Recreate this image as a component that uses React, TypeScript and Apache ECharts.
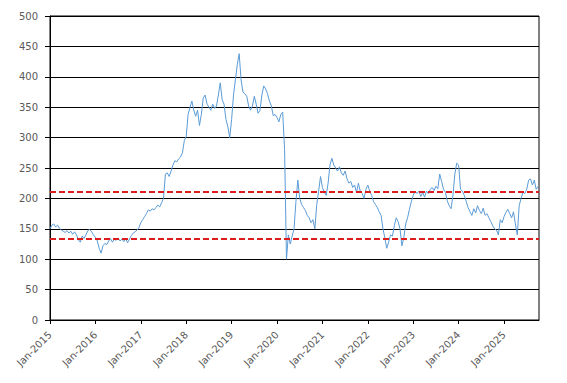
import React, { useEffect, useRef } from "react";
import * as echarts from "echarts";

// Series sampled every half month from Jan-2015
const startYear = 2015;
const stepYears = 1 / 24;
const values: number[] = [
  // 2015
  150, 156, 158, 153, 156, 151, 148, 146, 144, 147, 143, 146, 141, 145, 140, 132, 128, 138, 134, 140, 147, 149, 145, 140,
  // 2016
  136, 130, 118, 110, 122, 126, 124, 130, 134, 128, 133, 131, 135, 130, 133, 129, 134, 127, 133, 139, 143, 145, 148, 152,
  // 2017
  160, 165, 170, 175, 181, 179, 183, 181, 185, 189, 186, 193, 200, 240, 242, 236, 245, 255, 262, 260, 265, 268, 275, 295,
  // 2018
  302, 338, 350, 360, 345, 335, 345, 320, 338, 365, 370, 355, 350, 345, 355, 348, 352, 370, 390, 362, 355, 330, 318, 300,
  // 2019
  330, 370, 395, 420, 438, 395, 375, 372, 368, 352, 345, 352, 368, 355, 340, 345, 370, 385, 380, 372, 360, 352, 336, 338,
  // 2020
  333, 326, 338, 342, 280, 100, 140, 125, 138, 150, 195, 230, 200, 190, 185, 180, 172, 168, 160, 165, 150, 190, 212, 236,
  // 2021
  218, 210, 205, 225, 255, 266, 255, 250, 245, 252, 242, 238, 245, 232, 225, 228, 218, 222, 210, 225, 212, 208, 200, 215,
  // 2022
  222, 212, 205, 195, 190, 185, 178, 172, 150, 135, 118, 128, 140, 138, 155, 168, 162, 150, 122, 135, 158, 168, 182, 195,
  // 2023
  205, 212, 208, 212, 203, 210, 202, 212, 208, 215, 218, 213, 220, 216, 240, 228, 215, 210, 196, 188, 183, 205, 240, 258,
  // 2024
  255, 215, 212, 205, 195, 185, 178, 172, 183, 176, 188, 180, 175, 184, 172, 175, 168, 162, 155, 150, 148, 140, 165, 160,
  // 2025
  170, 177, 182, 175, 168, 178, 158, 140, 188, 200, 210, 208, 215, 230, 232, 222, 230, 215, 220,
];

const upperBand = 210.5;
const lowerBand = 133;
const yearTicks: number[] = [2015, 2016, 2017, 2018, 2019, 2020, 2021, 2022, 2023, 2024, 2025];
const xMax = 2025.77;

export default function App() {
  const ref = useRef<HTMLDivElement>(null);
  useEffect(() => {
    if (!ref.current) return;
    const chart = echarts.init(ref.current, undefined, { renderer: "svg" });
    const data = values.map((v, i) => [startYear + i * stepYears, v]);
    const labelStyle = { color: "#595959", fontFamily: "DejaVu Sans", fontSize: 10 };
    chart.setOption({
      animation: false,
      backgroundColor: "#ffffff",
      grid: {
        left: 50,
        right: 28,
        top: 16,
        bottom: 63,
        show: true,
        borderColor: "#000000",
        borderWidth: 1,
      },
      xAxis: {
        type: "value",
        min: startYear,
        max: xMax,
        interval: 1,
        axisLine: { show: true, lineStyle: { color: "#000000", width: 1 } },
        axisTick: {
          show: true,
          length: 4,
          lineStyle: { color: "#000000" },
          customValues: yearTicks,
        },
        splitLine: { show: false },
        axisLabel: {
          ...labelStyle,
          rotate: 45,
          margin: 13,
          customValues: yearTicks,
          formatter: (v: number) => "Jan-" + Math.round(v),
        },
      },
      yAxis: {
        type: "value",
        min: 0,
        max: 500,
        interval: 50,
        axisLine: { show: true, lineStyle: { color: "#000000", width: 1 } },
        axisTick: { show: true, length: 5, lineStyle: { color: "#000000" } },
        splitLine: { show: true, lineStyle: { color: "#000000", width: 1 } },
        axisLabel: { ...labelStyle, margin: 12 },
      },
      series: [
        {
          type: "line",
          data,
          showSymbol: false,
          symbol: "none",
          lineStyle: { color: "#5b9bd5", width: 1 },
          markLine: {
            silent: true,
            symbol: "none",
            label: { show: false },
            lineStyle: { color: "#dd1c1c", width: 2, type: [6, 3] },
            data: [{ yAxis: upperBand }, { yAxis: lowerBand }],
          },
        },
      ],
    });
    return () => chart.dispose();
  }, []);
  return (
    <div
      ref={ref}
      style={{ position: "fixed", left: 0, top: 0, width: 567, height: 383, background: "#fff" }}
    />
  );
}
